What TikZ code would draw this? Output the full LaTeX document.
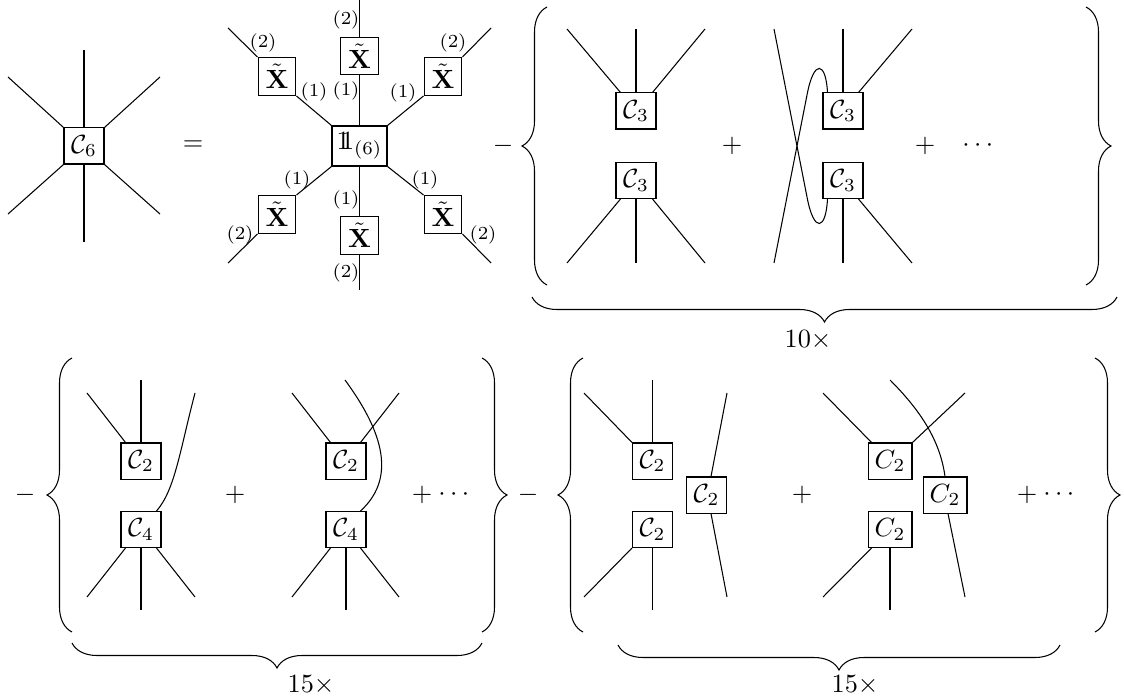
\documentclass[tikz,border=0pt]{standalone}
\usepackage{amsmath,amssymb}
\usetikzlibrary{calc,decorations.pathreplacing}
\newcommand{\myone}{\mathrm{1\mkern-6mu1}}
\begin{document}
\begin{tikzpicture}[x=0.38pt,y=0.38pt,line width=0.4pt,
  cbox/.style={draw,inner sep=0pt,minimum width=15.2pt,minimum height=13.7pt},
  wbox/.style={draw,inner sep=0pt,minimum width=16.7pt,minimum height=13.7pt},
  onebox/.style={draw,inner sep=0pt,minimum width=20.9pt,minimum height=15.2pt},
  xbox/.style={draw,inner sep=0pt,minimum width=14.4pt,minimum height=14.4pt},
  lab/.style={inner sep=0pt,font=\scriptsize},
  sym/.style={inner sep=0pt},
  brc/.style={decorate,decoration={brace,amplitude=9.5pt}}]
\useasboundingbox (0,0) rectangle (1124,-699);

% ---------- C6 ----------
\node[cbox] (c6) at (84,-146) {$\mathcal{C}_6$};
\coordinate (c6n) at (84,-50);
\coordinate (c6s) at (84,-242);
\coordinate (c6nw) at (8,-77);
\coordinate (c6ne) at (160,-77);
\coordinate (c6sw) at (8,-214);
\coordinate (c6se) at (160,-214);
\draw (c6.north) -- (c6n);
\draw (c6.south) -- (c6s);
\draw (c6.north west) -- (c6nw);
\draw (c6.north east) -- (c6ne);
\draw (c6.south west) -- (c6sw);
\draw (c6.south east) -- (c6se);
\node[sym] (eq) at (193,-146) {$=$};

% ---------- star ----------
\node[onebox] (one) at (359.5,-146) {$\myone_{(6)}$};
\node[xbox] (xt) at (359.5,-56) {$\tilde{\mathbf{X}}$};
\node[xbox] (xb) at (359.5,-235.5) {$\tilde{\mathbf{X}}$};
\node[xbox] (xtl) at (277,-76.5) {$\tilde{\mathbf{X}}$};
\node[xbox] (xtr) at (443,-76.5) {$\tilde{\mathbf{X}}$};
\node[xbox] (xbl) at (277,-214.5) {$\tilde{\mathbf{X}}$};
\node[xbox] (xbr) at (443,-214.5) {$\tilde{\mathbf{X}}$};
\coordinate (st) at (359.5,0);
\coordinate (sb) at (359.5,-290);
\coordinate (stl) at (228,-28);
\coordinate (str) at (491,-28);
\coordinate (sbl) at (228,-263);
\coordinate (sbr) at (491,-263);
\draw (st) -- (xt.north);
\draw (xt.south) -- (one.north);
\draw (one.south) -- (xb.north);
\draw (xb.south) -- (sb);
\draw (stl) -- (xtl.north west);
\draw (xtl.south east) -- (one.north west);
\draw (str) -- (xtr.north east);
\draw (xtr.south west) -- (one.north east);
\draw (one.south west) -- (xbl.north east);
\draw (xbl.south west) -- (sbl);
\draw (one.south east) -- (xbr.north west);
\draw (xbr.south east) -- (sbr);
\node[lab] (l1) at (346,-20) {(2)};
\node[lab] (l2) at (346,-91) {(1)};
\node[lab] (l3) at (263,-43) {(2)};
\node[lab] (l4) at (314,-92) {(1)};
\node[lab] (l5) at (453,-43) {(2)};
\node[lab] (l6) at (403,-93) {(1)};
\node[lab] (l7) at (297,-180) {(1)};
\node[lab] (l8) at (240,-235) {(2)};
\node[lab] (l9) at (425,-180) {(1)};
\node[lab] (l10) at (483,-235) {(2)};
\node[lab] (l11) at (346,-200) {(1)};
\node[lab] (l12) at (346,-273) {(2)};
\node[sym] (m1) at (503,-146) {$-$};

% ---------- top bracket (10x) ----------
\coordinate (lb1a) at (547,-285);
\coordinate (lb1b) at (547,-7);
\draw[brc] (lb1a) -- (lb1b);
\coordinate (rb1a) at (1086,-7);
\coordinate (rb1b) at (1086,-285);
\draw[brc] (rb1a) -- (rb1b);
\coordinate (ub1a) at (1117,-297);
\coordinate (ub1b) at (532,-297);
\draw[brc] (ub1a) -- (ub1b);
\node[sym] (t10) at (808,-340) {$10\times$};

% sub A
\node[cbox] (ua) at (636,-111) {$\mathcal{C}_3$};
\node[cbox] (la) at (636,-180.5) {$\mathcal{C}_3$};
\coordinate (ua1) at (567,-29);
\coordinate (ua2) at (636,-29);
\coordinate (ua3) at (705,-29);
\coordinate (la1) at (567,-263);
\coordinate (la2) at (636,-263);
\coordinate (la3) at (705,-263);
\draw (ua1) -- ($(ua.north west)+(5,0)$);
\draw (ua2) -- (ua.north);
\draw (ua3) -- ($(ua.north east)+(-4,0)$);
\draw ($(la.south west)+(5,0)$) -- (la1);
\draw (la.south) -- (la2);
\draw ($(la.south east)+(-4,0)$) -- (la3);
\node[sym] (p1) at (732,-146) {$+$};

% sub B
\node[cbox] (ub) at (843,-111) {$\mathcal{C}_3$};
\node[cbox] (lb) at (843,-180.5) {$\mathcal{C}_3$};
\coordinate (ub2) at (843,-29);
\coordinate (ub3) at (912,-29);
\coordinate (lb2) at (843,-263);
\coordinate (lb3) at (912,-263);
\coordinate (xa) at (774,-263);
\coordinate (xc) at (774,-29);
\draw (ub2) -- (ub.north);
\draw (ub3) -- ($(ub.north east)+(-5,0)$);
\draw (lb.south) -- (lb2);
\draw ($(lb.south east)+(-5,0)$) -- (lb3);
\draw (xa) -- (807,-95) .. controls (814,-58) and (826,-62) .. ($(ub.north west)+(5,0)$);
\draw (xc) -- (807,-197) .. controls (814,-234) and (826,-230) .. ($(lb.south west)+(5,0)$);
\node[sym] (p2) at (925,-146) {$+$};
\node[sym] (d1) at (980,-146) {$\cdots$};

% ---------- bottom left bracket ----------
\node[sym] (m2) at (25,-495) {$-$};
\coordinate (lb2a) at (72,-632);
\coordinate (lb2b) at (72,-358);
\draw[brc] (lb2a) -- (lb2b);
\coordinate (rb2a) at (482,-358);
\coordinate (rb2b) at (482,-632);
\draw[brc] (rb2a) -- (rb2b);
\coordinate (ub2a) at (482,-643);
\coordinate (ub2b) at (72,-643);
\draw[brc] (ub2a) -- (ub2b);
\node[sym] (t15a) at (311,-685) {$15\times$};

% sub 1
\node[cbox] (c2a) at (141,-461) {$\mathcal{C}_2$};
\node[cbox] (c4a) at (141,-529.5) {$\mathcal{C}_4$};
\coordinate (a1) at (87,-393);
\coordinate (a2) at (141,-380);
\coordinate (a3) at (195,-393);
\coordinate (a4) at (87,-597);
\coordinate (a5) at (141,-610);
\coordinate (a6) at (195,-597);
\draw (a1) -- ($(c2a.north west)+(5,0)$);
\draw (a2) -- (c2a.north);
\draw (a3) .. controls (180,-450) and (175,-490) .. ($(c4a.north east)+(-5,0)$);
\draw ($(c4a.south west)+(5,0)$) -- (a4);
\draw (c4a.south) -- (a5);
\draw ($(c4a.south east)+(-5,0)$) -- (a6);
\node[sym] (p3) at (235,-495) {$+$};

% sub 2
\node[cbox] (c2b) at (346,-461) {$\mathcal{C}_2$};
\node[cbox] (c4b) at (346,-529.5) {$\mathcal{C}_4$};
\coordinate (b1) at (292,-393);
\coordinate (b2) at (345,-380);
\coordinate (b3) at (399,-393);
\coordinate (b4) at (292,-597);
\coordinate (b5) at (346,-610);
\coordinate (b6) at (399,-597);
\draw (b1) -- ($(c2b.north west)+(5,0)$);
\draw (b3) -- ($(c2b.north east)+(-6,0)$);
\draw (b2) .. controls (378,-425) and (400,-475) .. ($(c4b.north east)+(-6,0)$);
\draw ($(c4b.south west)+(5,0)$) -- (b4);
\draw (c4b.south) -- (b5);
\draw ($(c4b.south east)+(-6,0)$) -- (b6);
\node[sym] (p4) at (422,-495) {$+$};
\node[sym] (d2) at (456,-495) {$\cdots$};
\node[sym] (m3) at (528,-495) {$-$};

% ---------- bottom right bracket ----------
\coordinate (lb3a) at (583,-632);
\coordinate (lb3b) at (583,-358);
\draw[brc] (lb3a) -- (lb3b);
\coordinate (rb3a) at (1095,-358);
\coordinate (rb3b) at (1095,-632);
\draw[brc] (rb3a) -- (rb3b);
\coordinate (ub3a) at (1060,-645);
\coordinate (ub3b) at (618,-645);
\draw[brc] (ub3a) -- (ub3b);
\node[sym] (t15b) at (855,-685) {$15\times$};

% sub 3
\node[cbox] (c2c) at (652.5,-461) {$\mathcal{C}_2$};
\node[cbox] (c2d) at (652.5,-529.5) {$\mathcal{C}_2$};
\node[cbox] (c2e) at (706.5,-495) {$\mathcal{C}_2$};
\coordinate (e1) at (584,-393);
\coordinate (e2) at (652.5,-380);
\coordinate (e3) at (727,-393);
\coordinate (e4) at (584,-597);
\coordinate (e5) at (652.5,-610);
\coordinate (e6) at (727,-597);
\draw (e1) -- (c2c.north west);
\draw (e2) -- (c2c.north);
\draw (e3) -- ($(c2e.north)+(4.5,0)$);
\draw (c2d.south west) -- (e4);
\draw (c2d.south) -- (e5);
\draw ($(c2e.south)+(4.5,0)$) -- (e6);
\node[sym] (p5) at (802,-495) {$+$};

% sub 4
\node[wbox] (c2f) at (890,-461) {$C_2$};
\node[wbox] (c2g) at (890,-529.5) {$C_2$};
\node[wbox] (c2h) at (945,-495) {$C_2$};
\coordinate (f1) at (823,-393);
\coordinate (f2) at (890,-380);
\coordinate (f3) at (965,-393);
\coordinate (f4) at (823,-597);
\coordinate (f5) at (890,-610);
\coordinate (f6) at (965,-597);
\draw (f1) -- ($(c2f.north west)+(4,0)$);
\draw (f3) -- (c2f.north east);
\draw (f2) .. controls (920,-410) and (940,-440) .. (c2h.north);
\draw ($(c2g.south west)+(4,0)$) -- (f4);
\draw (c2g.south) -- (f5);
\draw ($(c2h.south)+(3,0)$) -- (f6);
\node[sym] (p6) at (1027,-495) {$+$};
\node[sym] (d3) at (1061,-495) {$\cdots$};
\end{tikzpicture}
\end{document}
